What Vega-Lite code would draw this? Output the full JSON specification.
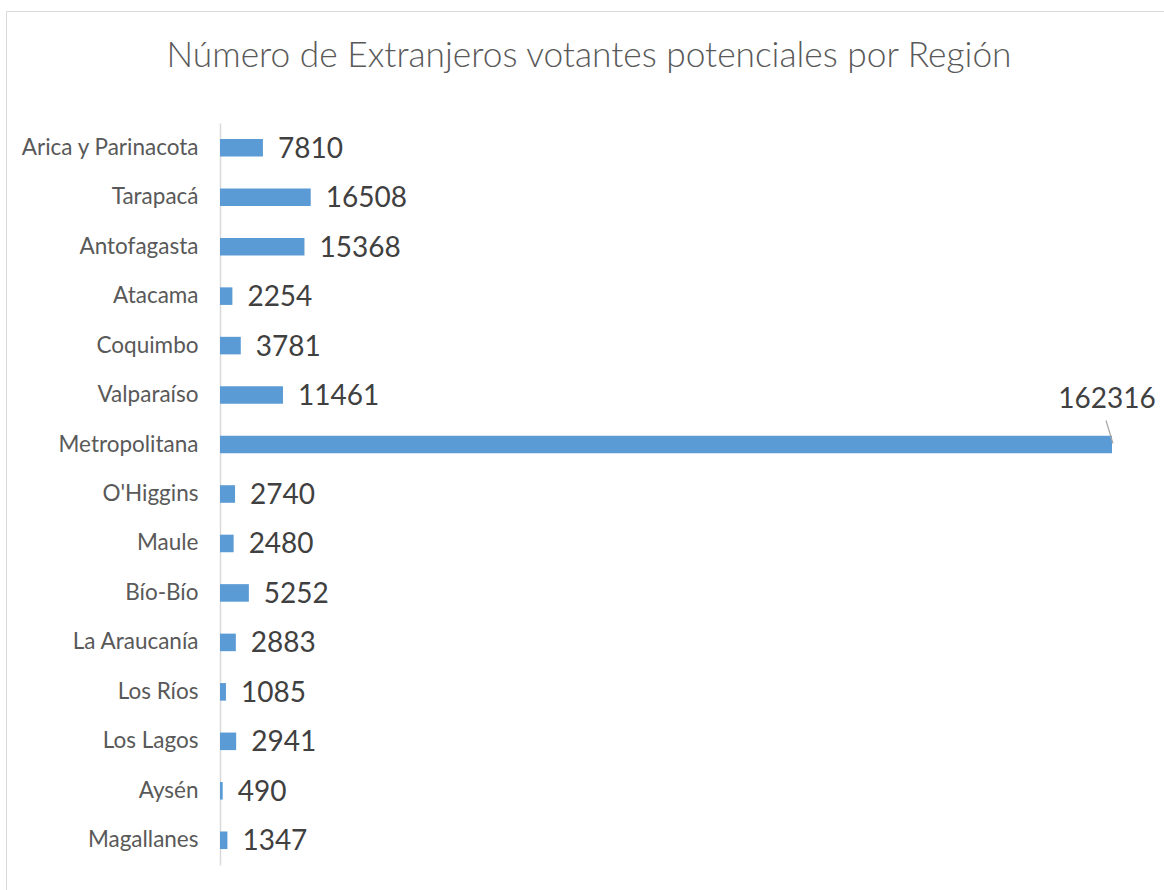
{
  "$schema": "https://vega.github.io/schema/vega-lite/v6.json",
  "autosize": "none",
  "padding": {"left": 6, "top": 11, "right": 0, "bottom": 0},
  "width": 1158,
  "height": 879,
  "background": "white",
  "config": {
    "view": {"stroke": "#d9d9d9", "strokeWidth": 1},
    "font": "Lato"
  },
  "title": {
    "text": "Número de Extranjeros votantes potenciales por Región",
    "font": "Lato",
    "fontSize": 35.3,
    "fontWeight": 300,
    "color": "#595959",
    "anchor": "middle",
    "baseline": "middle",
    "offset": 0,
    "dy": 80,
    "dx": 4
  },
  "data": {
    "values": [
      {"region": "Arica y Parinacota", "value": 7810},
      {"region": "Tarapacá", "value": 16508},
      {"region": "Antofagasta", "value": 15368},
      {"region": "Atacama", "value": 2254},
      {"region": "Coquimbo", "value": 3781},
      {"region": "Valparaíso", "value": 11461},
      {"region": "Metropolitana", "value": 162316},
      {"region": "O'Higgins", "value": 2740},
      {"region": "Maule", "value": 2480},
      {"region": "Bío-Bío", "value": 5252},
      {"region": "La Araucanía", "value": 2883},
      {"region": "Los Ríos", "value": 1085},
      {"region": "Los Lagos", "value": 2941},
      {"region": "Aysén", "value": 490},
      {"region": "Magallanes", "value": 1347}
    ]
  },
  "encoding": {
    "y": {
      "field": "region",
      "type": "nominal",
      "sort": null,
      "scale": {"range": [112, 854], "paddingInner": 0.645, "paddingOuter": 0.3225},
      "axis": {
        "title": null,
        "offset": -214,
        "ticks": false,
        "labelPadding": 22,
        "labelFont": "Lato",
        "labelFontSize": 22.5,
        "labelColor": "#595959",
        "domainColor": "#d9d9d9",
        "domainWidth": 1.5,
        "grid": false
      }
    },
    "x": {
      "field": "value",
      "type": "quantitative",
      "scale": {"domain": [-38941, 171778], "nice": false, "zero": false},
      "axis": null
    }
  },
  "layer": [
    {
      "mark": {"type": "bar", "color": "#5b9bd5"},
      "encoding": {"x2": {"datum": 0}}
    },
    {
      "transform": [{"filter": "datum.region !== 'Metropolitana'"}],
      "mark": {"type": "text", "align": "left", "baseline": "middle", "dx": 15, "dy": 2, "fontSize": 28, "color": "#404040", "font": "Lato"},
      "encoding": {"text": {"field": "value", "type": "quantitative", "format": "d"}}
    },
    {
      "transform": [{"filter": "datum.region === 'Metropolitana'"}],
      "mark": {"type": "text", "align": "center", "baseline": "middle", "dx": -5, "dy": -45, "fontSize": 28, "color": "#404040", "font": "Lato"},
      "encoding": {"text": {"field": "value", "type": "quantitative", "format": "d"}}
    },
    {
      "transform": [{"filter": "datum.region === 'Metropolitana'"}],
      "mark": {"type": "rule", "color": "#a6a6a6", "strokeWidth": 1.2, "xOffset": -6, "x2Offset": 1, "yOffset": -24, "y2Offset": -1},
      "encoding": {
        "x2": {"field": "value"},
        "y2": {"field": "region"}
      }
    }
  ]
}
